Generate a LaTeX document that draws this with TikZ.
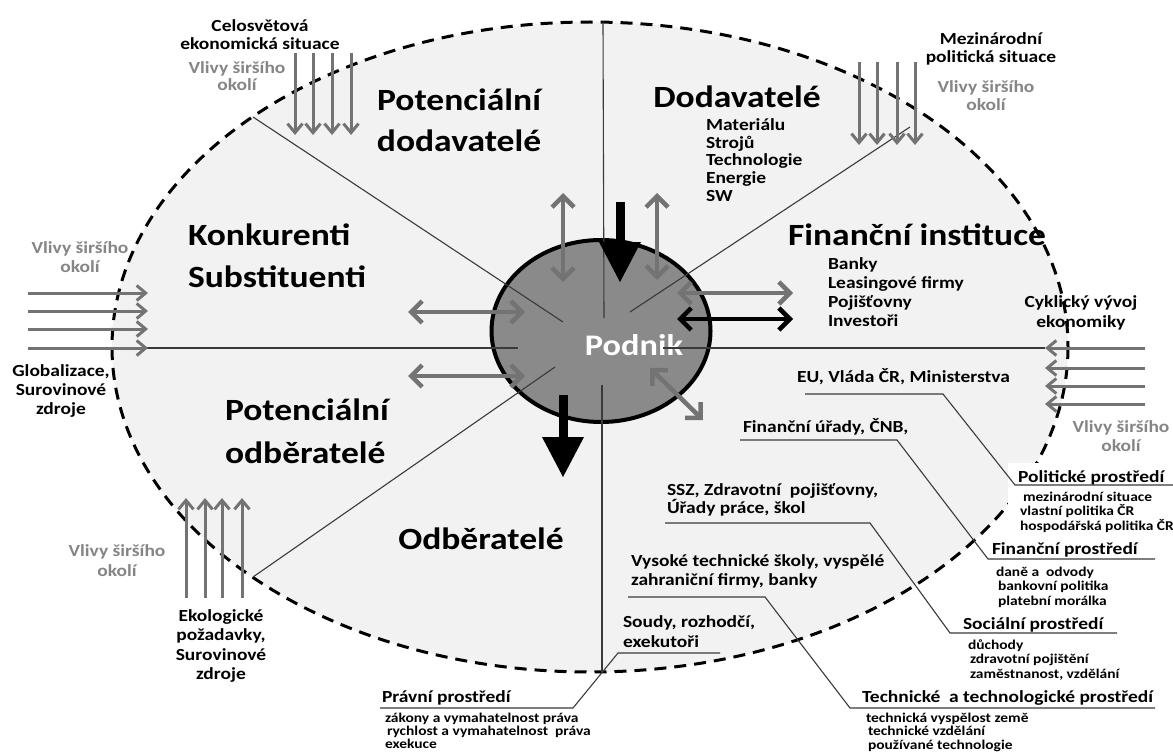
\documentclass[tikz,border=0pt]{standalone}
\usepackage{fontspec}
\newfontfamily\cf[FakeStretch=1.15]{Carlito}
\usetikzlibrary{arrows.meta,shapes.geometric}

\definecolor{envfill}{HTML}{F2F2F2}
\definecolor{corefill}{HTML}{8A8A8A}
\definecolor{arrowgray}{HTML}{737373}
\definecolor{labelgray}{HTML}{858585}
\definecolor{rulegray}{HTML}{3A3A3A}

\tikzset{
  every node/.style={inner sep=0pt, outer sep=0pt},
  bigl/.style={font=\cf\bfseries\fontsize{31}{#1}\selectfont},
  bigl/.default=41,
  medl/.style={font=\cf\bfseries\fontsize{17}{#1}\selectfont},
  medl/.default=19,
  grayl/.style={medl=#1, text=labelgray},
  grayl/.default=19,
  smalll/.style={font=\cf\bfseries\fontsize{13.5}{#1}\selectfont},
  smalll/.default=14,
  divider/.style={draw=rulegray, line width=1.1bp},
  leader/.style={draw=rulegray, line width=1.1bp},
  influence/.style={draw=arrowgray, line width=3bp,
    >={Straight Barb[length=9bp,width=15bp]}, ->},
  duplex/.style={line width=4.5bp,
    >={Straight Barb[length=11bp,width=22bp]}, <->},
  flowdown/.style={draw=black, line width=9bp,
    >={Triangle[length=40bp,width=42bp,line width=0pt]}, ->},
}

\begin{document}
\begin{tikzpicture}[x=1bp,y=-1bp]
\clip (0,0) rectangle (1173,753);
\fill[white] (0,0) rectangle (1173,753);

% the company's environment
\path[fill=envfill, draw=black, line width=3bp, dash pattern=on 12bp off 8bp]
  (590,347) ellipse [x radius=478, y radius=325];

% white panel behind the political environment heading
\fill[white] (1008,463) rectangle (1173,532);

% the company itself
\node[ellipse, draw=black, fill=corefill, line width=4bp,
      minimum width=219bp, minimum height=182bp] (core) at (601,331) {};

% sector dividers
\coordinate (dTop) at (603,22);   \coordinate (dTopIn) at (604,318);
\coordinate (dBot) at (602,672);  \coordinate (dBotIn) at (602,385);
\coordinate (dLeft) at (112,348); \coordinate (dLeftIn) at (518,348);
\coordinate (dRight) at (1045,348); \coordinate (dRightIn) at (663,348);
\coordinate (dUL) at (253,117);   \coordinate (dULIn) at (563,322);
\coordinate (dLL) at (253,577);   \coordinate (dLLIn) at (555,367);
\coordinate (dUR) at (910,127);   \coordinate (dURIn) at (630,312);
\draw[divider] (dTop) -- (dTopIn);
\draw[divider] (dBotIn) -- (dBot);
\draw[divider] (dLeft) -- (dLeftIn);
\draw[divider] (dUL) -- (dULIn);
\draw[divider] (dLL) -- (dLLIn);
\draw[divider] (dUR) -- (dURIn);

\node[font=\cf\bfseries\fontsize{30}{36}\selectfont, text=white] (podnik) at (634,345) {Podnik};
\draw[divider] (dRightIn) -- (dRight);

% exchanges between the company and its partners
\coordinate (a1s) at (563,193); \coordinate (a1e) at (563,282);
\coordinate (a2s) at (657,193); \coordinate (a2e) at (657,280);
\coordinate (a3s) at (408,312); \coordinate (a3e) at (525,312);
\coordinate (a4s) at (408,376); \coordinate (a4e) at (525,376);
\coordinate (a5s) at (677,293); \coordinate (a5e) at (793,293);
\coordinate (a6s) at (677,319); \coordinate (a6e) at (793,319);
\coordinate (a7s) at (650,368); \coordinate (a7e) at (703,420);
\coordinate (f1s) at (620,202); \coordinate (f1e) at (620,282);
\coordinate (f2s) at (563,395); \coordinate (f2e) at (563,477);
\draw[duplex, draw=arrowgray] (a1s) -- (a1e);
\draw[duplex, draw=arrowgray] (a2s) -- (a2e);
\draw[duplex, draw=arrowgray] (a3s) -- (a3e);
\draw[duplex, draw=arrowgray] (a4s) -- (a4e);
\draw[duplex, draw=arrowgray] (a5s) -- (a5e);
\draw[duplex, draw=black] (a6s) -- (a6e);
\draw[duplex, draw=arrowgray] (a7s) -- (a7e);
\draw[flowdown] (f1s) -- (f1e);
\draw[flowdown] (f2s) -- (f2e);

% influences of the wider surroundings
\foreach \x in {295,313,332,351} \draw[influence] (\x,53) -- (\x,135);
\foreach \x in {859,877,897,915} \draw[influence] (\x,62) -- (\x,145);
\foreach \y in {293,311,329,348} \draw[influence] (28,\y) -- (148,\y);
\foreach \y in {348,368,386,404} \draw[influence] (1145,\y) -- (1045,\y);
\foreach \x in {186,205,222,242} \draw[influence] (\x,598) -- (\x,498);

% wider surroundings labels
\node[medl=18, align=center] (worldEco) at (260,35) {Celosvětová\\ekonomická situace};
\node[grayl=17, align=center] (wider1) at (237,76) {Vlivy širšího\\okolí};
\node[medl=18, align=center] (intPol) at (991,49) {Mezinárodní\\politická situace};
\node[grayl=18, align=center] (wider2) at (986,96) {Vlivy širšího\\okolí};
\node[grayl=19, align=center] (wider3) at (80,257) {Vlivy širšího\\okolí};
\node[medl=19, align=center] (global) at (61,391) {Globalizace,\\Surovinové\\zdroje};
\node[medl=20, align=center] (cycle) at (1081,313) {Cyklický vývoj\\ekonomiky};
\node[grayl=19, align=center] (wider4) at (1121,436) {Vlivy širšího\\okolí};
\node[grayl=20, align=center] (wider5) at (117,561) {Vlivy širšího\\okolí};
\node[medl=19.5, align=center] (ecol) at (221,646) {Ekologické\\požadavky,\\Surovinové\\zdroje};

% sector labels
\node[bigl=41, align=center] (potSup) at (459,120) {Potenciální\\dodavatelé};
\node[bigl] (sup) at (737,97) {Dodavatelé};
\node[medl=17.8, align=left, anchor=west] (supList) at (706,160)
  {Materiálu\\Strojů\\Technologie\\Energie\\SW};
\node[bigl=42, align=left, anchor=west] (comp) at (188,256) {Konkurenti\\Substituenti};
\node[bigl] (finInst) at (917,235) {Finanční instituce};
\node[medl=19.3, align=left, anchor=west] (finList) at (828,292)
  {Banky\\Leasingové firmy\\Pojišťovny\\Investoři};
\node[bigl=43, align=left, anchor=west] (potCust) at (225,431) {Potenciální\\odběratelé};
\node[bigl] (cust) at (481,539) {Odběratelé};

% institutions
\node[medl, anchor=west] (eu) at (797,377) {EU, Vláda ČR, Ministerstva};
\node[medl, anchor=west] (fu) at (743,427) {Finanční úřady, ČNB,};
\node[medl=17, align=left, anchor=west] (ssz) at (667,500) {SSZ, Zdravotní\ \ pojišťovny,\\Úřady práce, škol};
\node[medl=19, align=left, anchor=west] (vys) at (631,571) {Vysoké technické školy, vyspělé\\zahraniční firmy, banky};
\node[medl=20, align=left, anchor=west] (soud) at (623,632) {Soudy, rozhodčí,\\exekutoři};

% environment headings
\node[medl, anchor=west] (pol) at (1018,478) {Politické prostředí};
\node[smalll=14.5, align=left, anchor=west] (polSub) at (1020,512)
  {\hspace{3bp}mezinárodní situace\\vlastní politika ČR\\hospodářská politika ČR};
\node[medl, anchor=west] (finEnv) at (992,550) {Finanční prostředí};
\node[smalll=14.5, align=left, anchor=west] (finSub) at (996,587)
  {daně a\ \ odvody\\\hspace{2bp}bankovní politika\\\hspace{2bp}platební morálka};
\node[medl, anchor=west] (socEnv) at (963,625) {Sociální prostředí};
\node[smalll=15, align=left, anchor=west] (socSub) at (968,660)
  {důchody\\\hspace{2bp}zdravotní pojištění\\\hspace{2bp}zaměstnanost, vzdělání};
\node[medl, anchor=west] (techEnv) at (862,698) {Technické\ \ a technologické prostředí};
\node[smalll=13.5, align=left, anchor=west] (techSub) at (866,732)
  {technická vyspělost země\\\hspace{2bp}technické vzdělání\\\hspace{2bp}používané technologie};
\node[medl, anchor=west] (lawEnv) at (382,698) {Právní prostředí};
\node[smalll=13, align=left, anchor=west] (lawSub) at (385,731)
  {zákony a vymahatelnost práva\\\hspace{2bp}rychlost a vymahatelnost\ \ práva\\exekuce};

% leaders from institutions to their environments
\coordinate (l1a) at (805,394); \coordinate (l1b) at (943,394);
\coordinate (l1c) at (1015,485); \coordinate (l1d) at (1173,485);
\coordinate (l2a) at (740,440); \coordinate (l2b) at (897,440);
\coordinate (l2c) at (988,559); \coordinate (l2d) at (1155,559);
\coordinate (l3a) at (665,523); \coordinate (l3b) at (870,523);
\coordinate (l3c) at (950,633); \coordinate (l3d) at (1117,633);
\coordinate (l4a) at (628,597); \coordinate (l4b) at (765,597);
\coordinate (l4c) at (850,708); \coordinate (l4d) at (1155,708);
\coordinate (l5a) at (720,653); \coordinate (l5b) at (618,653);
\coordinate (l5c) at (573,708); \coordinate (l5d) at (380,708);
\draw[leader] (l1a) -- (l1b) -- (l1c) -- (l1d);
\draw[leader] (l2a) -- (l2b) -- (l2c) -- (l2d);
\draw[leader] (l3a) -- (l3b) -- (l3c) -- (l3d);
\draw[leader] (l4a) -- (l4b) -- (l4c) -- (l4d);
\draw[leader] (l5a) -- (l5b) -- (l5c) -- (l5d);
\end{tikzpicture}
\end{document}
